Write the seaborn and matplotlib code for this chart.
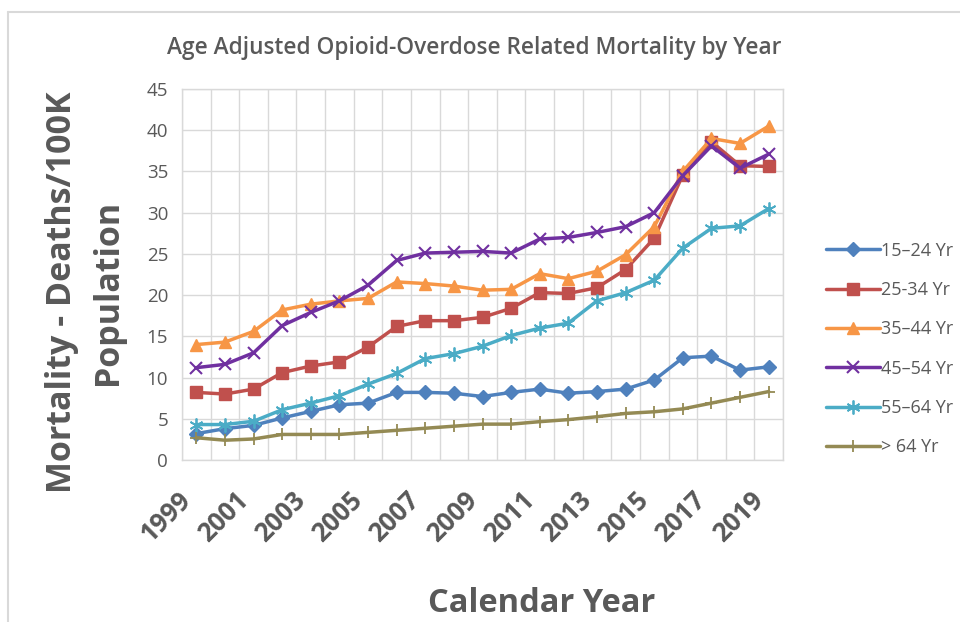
import matplotlib
matplotlib.use("Agg")
import matplotlib.pyplot as plt
import matplotlib.transforms as mtransforms
import seaborn as sns
import pandas as pd
import numpy as np
from matplotlib.lines import Line2D

years = list(range(1999, 2020))
age_15_24 = [3.2, 3.8, 4.2, 5.1, 5.9, 6.7, 6.9, 8.2, 8.2, 8.1, 7.7, 8.2, 8.6, 8.1, 8.3, 8.6, 9.7, 12.4, 12.6, 10.9, 11.3]
age_25_34 = [8.2, 8.0, 8.6, 10.6, 11.4, 11.9, 13.7, 16.2, 16.9, 16.9, 17.3, 18.4, 20.3, 20.2, 20.9, 23.1, 26.9, 34.6, 38.6, 35.7, 35.6]
age_35_44 = [14.0, 14.3, 15.6, 18.2, 18.9, 19.3, 19.6, 21.6, 21.4, 21.1, 20.6, 20.7, 22.6, 22.0, 22.9, 24.9, 28.3, 35.0, 39.0, 38.4, 40.5]
age_45_54 = [11.2, 11.6, 13.0, 16.3, 17.9, 19.3, 21.2, 24.2, 25.1, 25.2, 25.3, 25.1, 26.8, 27.0, 27.6, 28.3, 30.0, 34.5, 38.1, 35.4, 37.1]
age_55_64 = [4.3, 4.3, 4.7, 6.1, 6.9, 7.8, 9.2, 10.5, 12.3, 12.9, 13.8, 15.1, 16.0, 16.6, 19.3, 20.3, 21.8, 25.7, 28.1, 28.4, 30.5]
age_65_up = [2.7, 2.4, 2.55, 3.1, 3.1, 3.1, 3.35, 3.6, 3.85, 4.1, 4.35, 4.35, 4.65, 4.9, 5.25, 5.65, 5.85, 6.2, 6.9, 7.6, 8.3]
series_names = ["15\u201324 Yr", "25-34 Yr", "35\u201344 Yr", "45\u201354 Yr", "55\u201364 Yr", "> 64 Yr"]
y_ticks = list(range(0, 50, 5))
x_tick_years = list(range(1999, 2020, 2))

colors = ["#4F81BD", "#C0504D", "#F79646", "#7030A0", "#4BACC6", "#948A54"]
markers = ["D", "s", "^", "x", (6, 2, 0), "+"]
msizes = [7, 8.5, 9, 9, 10, 8]
mews = [1, 1, 1, 1.5, 1.3, 1.3]

all_series = [age_15_24, age_25_34, age_35_44, age_45_54, age_55_64, age_65_up]

sns.set_theme(style="white")
plt.rcParams['font.family'] = ['Open Sans', 'DejaVu Sans']

fig = plt.figure(figsize=(9.6, 6.22), dpi=100)
ax = fig.add_axes([182/960, 1-460/622, (783-182)/960, (460-89)/622])

for name, vals, c, m, ms, mw in zip(series_names, all_series, colors, markers, msizes, mews):
    df = pd.DataFrame({"year": years, "value": vals})
    sns.lineplot(data=df, x="year", y="value", ax=ax, color=c, linewidth=2.5,
                 marker=m, markersize=ms, markeredgecolor=c, markerfacecolor=c,
                 markeredgewidth=mw, label=name, legend=False)

ax.set_xlim(1998.5, 2019.5)
ax.set_ylim(0, 45)
ax.set_yticks(y_ticks)
ax.set_yticklabels([str(v) for v in y_ticks], color="#595959", fontsize=13.5)
ax.set_xticks(x_tick_years)
ax.set_xticklabels([str(v) for v in x_tick_years], rotation=45, ha="right",
                   color="#595959", fontsize=18.5, fontweight="bold")
offset = mtransforms.ScaledTranslation(12/100, 0, fig.dpi_scale_trans)
for lbl in ax.get_xticklabels():
    lbl.set_transform(lbl.get_transform() + offset)
ax.set_xticks(np.arange(1998.5, 2020, 1), minor=True)
ax.tick_params(axis="both", which="both", length=0)
ax.tick_params(axis="x", pad=19)
ax.tick_params(axis="y", pad=10)
ax.grid(False)
ax.grid(True, which="minor", axis="x", color="#D9D9D9", linewidth=1)
ax.grid(True, which="major", axis="y", color="#D9D9D9", linewidth=1)
for s in ax.spines.values():
    s.set_color("#D9D9D9")
    s.set_linewidth(1)
ax.set_xlabel("")
ax.set_ylabel("")

fig.text(474/960, 1-48/622, "Age Adjusted Opioid-Overdose Related Mortality by Year",
         ha="center", va="center", fontsize=16.3, color="#595959", fontweight="semibold")
fig.text(62/960, 1-292/622, "Mortality - Deaths/100K", rotation=90, ha="center", va="center",
         fontsize=24.5, color="#595959", fontweight="bold")
fig.text(108/960, 1-292/622, "Population", rotation=90, ha="center", va="center",
         fontsize=24.5, color="#595959", fontweight="bold")
fig.text(542/960, 1-604/622, "Calendar Year", ha="center", va="center",
         fontsize=23.5, color="#595959", fontweight="bold")

handles = [Line2D([], [], color=c, marker=m, markersize=ms, markeredgecolor=c,
                  markerfacecolor=c, markeredgewidth=mw, linewidth=2.5)
           for c, m, ms, mw in zip(colors, markers, msizes, mews)]
leg = fig.legend(handles, series_names, loc="center left", bbox_to_anchor=(810/960, 1-349/622),
                 frameon=False, fontsize=13, labelspacing=1.18, handlelength=3.0,
                 handletextpad=0.05, labelcolor="#595959")

fig.add_artist(Line2D([8/960, 8/960], [0, 1-12/622], color="#D9D9D9", linewidth=1.5,
                      transform=fig.transFigure))
fig.add_artist(Line2D([8/960, 1], [1-12/622, 1-12/622], color="#D9D9D9", linewidth=1.5,
                      transform=fig.transFigure))

fig.savefig("out.png", dpi=100, facecolor="white")
